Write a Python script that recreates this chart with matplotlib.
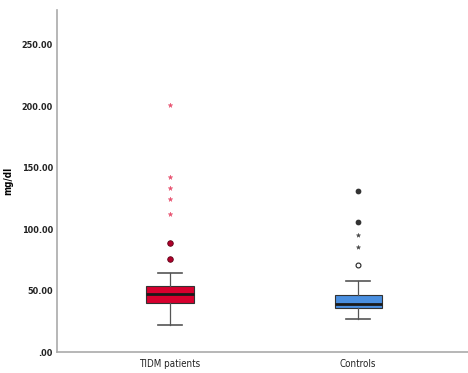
import matplotlib
matplotlib.use("Agg")
import matplotlib.pyplot as plt
from matplotlib import font_manager

# Groups and box statistics (mg/dl)
groups = ["TIDM patients", "Controls"]
medians = [47.0, 39.0]
q1 = [40.0, 36.0]
q3 = [53.5, 46.0]
whisker_low = [22.0, 27.0]
whisker_high = [64.0, 58.0]

# Mild outliers (circles) and extreme outliers (stars)
circles_patients = [89.0, 76.0]
stars_patients = [201.0, 142.0, 133.0, 124.0, 112.0]
circles_controls = [71.0]
filled_controls = [131.0, 106.0]
stars_controls = [95.0, 85.0]

yticks = [0, 50, 100, 150, 200, 250]
ytick_labels = [".00", "50.00", "100.00", "150.00", "200.00", "250.00"]

box_colors = ["#d7002e", "#4a8fe0"]

condensed = [f for f in font_manager.fontManager.ttflist
             if f.name == "DejaVu Sans" and f.stretch == "condensed"]
plt.rcParams["font.family"] = ["DejaVu Sans"]
stretch = "condensed" if condensed else "normal"

fig = plt.figure(figsize=(4.68, 3.73), dpi=100)
ax = fig.add_axes([0.1218, 0.0563, 0.8782, 0.9167])

positions = [1, 2]
stats = []
for i, g in enumerate(groups):
    stats.append(dict(label=g, med=medians[i], q1=q1[i], q3=q3[i],
                      whislo=whisker_low[i], whishi=whisker_high[i], fliers=[]))

bp = ax.bxp(stats, positions=positions, widths=0.25, patch_artist=True,
            showfliers=False,
            boxprops=dict(linewidth=0.8, edgecolor="#333333"),
            medianprops=dict(color="#1a1a1a", linewidth=2.0),
            whiskerprops=dict(color="#555555", linewidth=0.9),
            capprops=dict(color="#555555", linewidth=1.2))
for patch, c in zip(bp["boxes"], box_colors):
    patch.set_facecolor(c)
for cap in bp["caps"]:
    x0, x1 = cap.get_xdata()
    xm = (x0 + x1) / 2
    cap.set_xdata([xm - 0.062, xm + 0.062])

# Patients outliers
ax.plot([1] * len(circles_patients), circles_patients, linestyle="none",
        marker="o", markersize=4, markerfacecolor="#b0002a",
        markeredgecolor="#5a0015", markeredgewidth=0.6)
ax.plot([1] * len(stars_patients), stars_patients, linestyle="none",
        marker="*", markersize=3.5, color="#e8506e", markeredgewidth=0.3)

# Controls outliers
ax.plot([2] * len(circles_controls), circles_controls, linestyle="none",
        marker="o", markersize=3.5, markerfacecolor="white",
        markeredgecolor="#222222", markeredgewidth=0.8)
ax.plot([2] * len(filled_controls), filled_controls, linestyle="none",
        marker="o", markersize=3.5, markerfacecolor="#333333",
        markeredgecolor="#222222", markeredgewidth=0.6)
ax.plot([2] * len(stars_controls), stars_controls, linestyle="none",
        marker="*", markersize=3.2, color="#444444", markeredgewidth=0.3)

ax.set_xlim(0.399, 2.585)
ax.set_ylim(0, 278)
ax.set_yticks(yticks)
ax.set_yticklabels(ytick_labels)
ax.set_xticks(positions)
ax.set_xticklabels(groups)
ax.tick_params(axis="both", length=0, colors="#222222")
ax.tick_params(axis="y", pad=3)
ax.tick_params(axis="x", pad=5)
for lbl in ax.get_yticklabels():
    lbl.set_fontsize(6.5)
    lbl.set_fontweight("bold")
    lbl.set_fontstretch(stretch)
for lbl in ax.get_xticklabels():
    lbl.set_fontsize(7)
    lbl.set_fontstretch(stretch)
ax.set_ylabel("mg/dl", fontsize=7, fontweight="bold", labelpad=6,
              fontstretch=stretch)

for side in ["top", "right"]:
    ax.spines[side].set_visible(False)
for side in ["left", "bottom"]:
    ax.spines[side].set_color("#aaaaaa")
    ax.spines[side].set_linewidth(1.2)

fig.savefig("out.png", dpi=100)
